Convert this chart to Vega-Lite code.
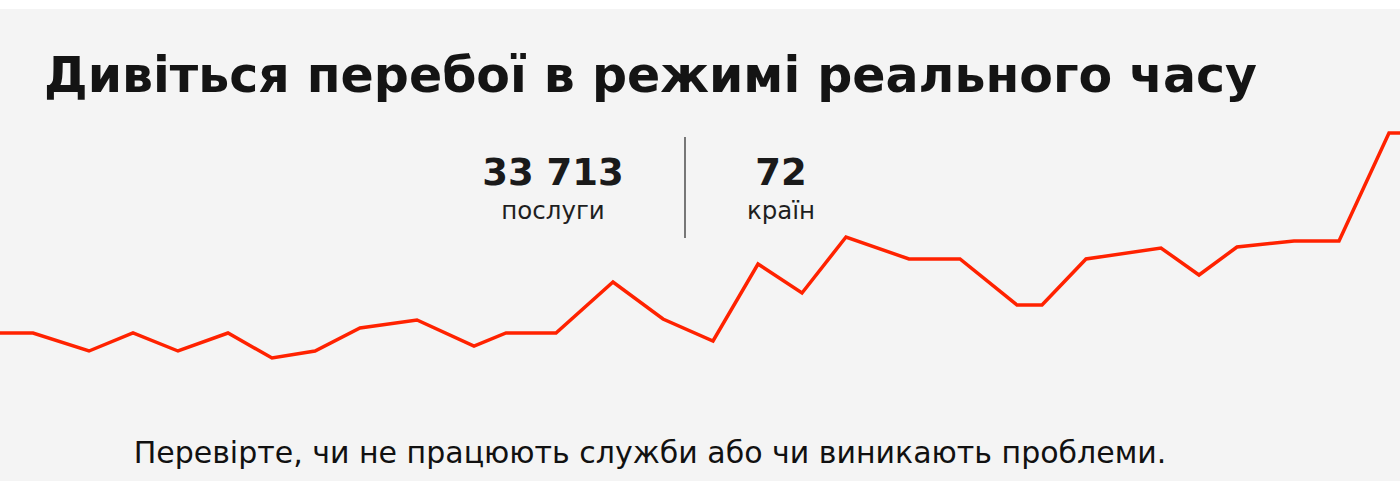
{
  "$schema": "https://vega.github.io/schema/vega-lite/v6.json",
  "width": 1400,
  "height": 472,
  "autosize": "none",
  "padding": {"top": 9, "left": 0, "right": 0, "bottom": 0},
  "background": "#ffffff",
  "config": {"view": {"stroke": null, "fill": "#f4f4f4"}},
  "layer": [
    {
      "data": {"values": [{"a": 1}]},
      "mark": {"type": "rect", "fill": {"gradient": "radial", "x1": 0.99, "y1": 0.02, "r1": 0, "x2": 0.99, "y2": 0.02, "r2": 0.3, "stops": [{"offset": 0, "color": "#f1cfcf"}, {"offset": 0.4, "color": "#f3e4e4"}, {"offset": 1, "color": "#f4f4f4"}]}, "opacity": 1},
      "encoding": {
        "x": {"datum": 0, "type": "quantitative", "scale": {"domain": [0, 1400], "nice": false, "zero": false}, "axis": null},
        "x2": {"datum": 1400},
        "y": {"datum": 0, "type": "quantitative", "scale": {"domain": [0, 472], "nice": false, "zero": false}, "axis": null},
        "y2": {"datum": 472}
      }
    },
    {
      "data": {"values": [
        {"t": 0, "v": 148}, {"t": 33, "v": 148}, {"t": 89, "v": 130}, {"t": 133, "v": 148},
        {"t": 178, "v": 130}, {"t": 228, "v": 148}, {"t": 272, "v": 123}, {"t": 315, "v": 130},
        {"t": 360, "v": 153}, {"t": 417, "v": 161}, {"t": 474, "v": 135}, {"t": 506, "v": 148},
        {"t": 556, "v": 148}, {"t": 613, "v": 199}, {"t": 663, "v": 162}, {"t": 713, "v": 140},
        {"t": 758, "v": 217}, {"t": 802, "v": 188}, {"t": 846, "v": 244}, {"t": 909, "v": 222},
        {"t": 960, "v": 222}, {"t": 1017, "v": 176}, {"t": 1042, "v": 176}, {"t": 1086, "v": 222},
        {"t": 1161, "v": 233}, {"t": 1199, "v": 206}, {"t": 1237, "v": 234}, {"t": 1294, "v": 240},
        {"t": 1339, "v": 240}, {"t": 1389, "v": 348}, {"t": 1400, "v": 348}
      ]},
      "mark": {"type": "line", "color": "#ff2200", "strokeWidth": 3.5, "strokeJoin": "miter"},
      "encoding": {
        "x": {"field": "t", "type": "quantitative", "axis": null},
        "y": {"field": "v", "type": "quantitative", "axis": null}
      }
    },
    {
      "data": {"values": [{"s": "Дивіться перебої в режимі реального часу"}]},
      "mark": {"type": "text", "align": "left", "baseline": "alphabetic", "font": "DejaVu Sans", "fontWeight": "bold", "fontSize": 49, "color": "#141414"},
      "encoding": {
        "text": {"field": "s"},
        "x": {"datum": 44, "type": "quantitative"},
        "y": {"datum": 389, "type": "quantitative"}
      }
    },
    {
      "data": {"values": [{"s": "33 713", "p": 553}, {"s": "72", "p": 781}]},
      "mark": {"type": "text", "align": "center", "baseline": "alphabetic", "font": "DejaVu Sans", "fontWeight": "bold", "fontSize": 37, "color": "#1a1a1a"},
      "encoding": {
        "text": {"field": "s"},
        "x": {"field": "p", "type": "quantitative"},
        "y": {"datum": 296, "type": "quantitative"}
      }
    },
    {
      "data": {"values": [{"s": "послуги", "p": 553}, {"s": "країн", "p": 781}]},
      "mark": {"type": "text", "align": "center", "baseline": "alphabetic", "font": "DejaVu Sans", "fontWeight": "normal", "fontSize": 24.5, "color": "#1f1f1f"},
      "encoding": {
        "text": {"field": "s"},
        "x": {"field": "p", "type": "quantitative"},
        "y": {"datum": 262, "type": "quantitative"}
      }
    },
    {
      "data": {"values": [{"a": 1}]},
      "mark": {"type": "rule", "color": "#222222", "strokeWidth": 1.2},
      "encoding": {
        "x": {"datum": 685, "type": "quantitative"},
        "y": {"datum": 344, "type": "quantitative"},
        "y2": {"datum": 243}
      }
    },
    {
      "data": {"values": [{"s": "Перевірте, чи не працюють служби або чи виникають проблеми."}]},
      "mark": {"type": "text", "align": "center", "baseline": "alphabetic", "font": "DejaVu Sans", "fontWeight": "normal", "fontSize": 30, "color": "#111111"},
      "encoding": {
        "text": {"field": "s"},
        "x": {"datum": 650, "type": "quantitative"},
        "y": {"datum": 18, "type": "quantitative"}
      }
    }
  ]
}
